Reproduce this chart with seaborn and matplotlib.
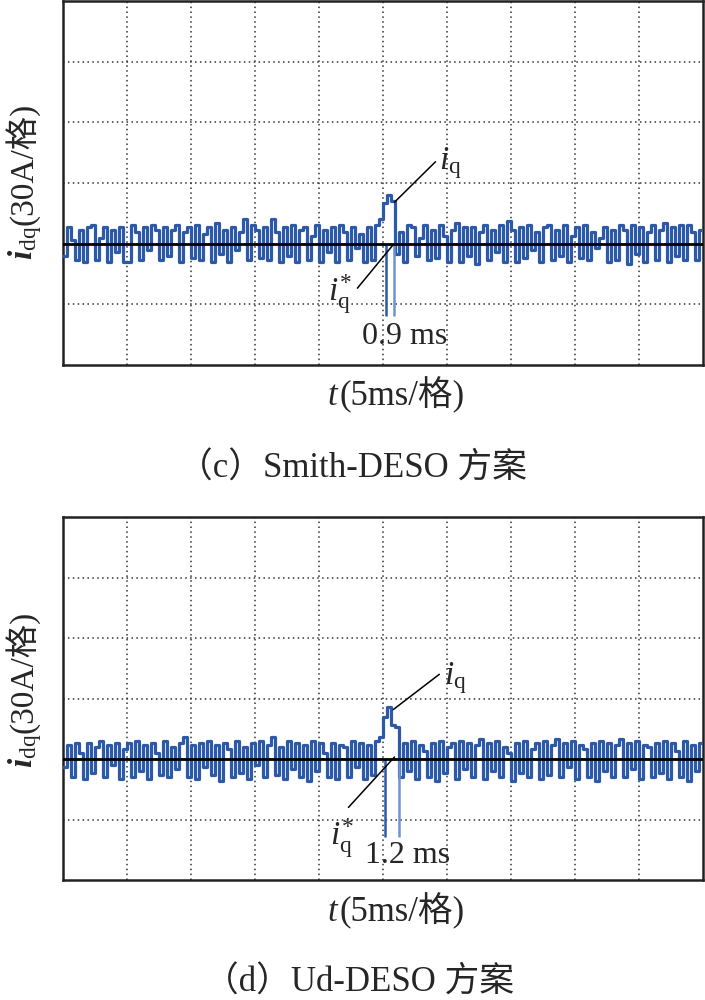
import numpy as np
import pandas as pd
import matplotlib
matplotlib.use("Agg")
import matplotlib.pyplot as plt
import seaborn as sns

# q-axis current around the reference, in A (30 A per division), one value per sample
step_ms = 50 / 160

iq_smith = [
    -6, 8, 2, -8, 7, -9, 8, 9, -8, 3, 8, -9, 7, -4, 8, -9, -9, 9, 6, -8,
    8, -3, 9, 7, -8, 8, -6, 7, 9, -9, 6, 8, -7, 9, -8, 5, 8, -9, 10, -5,
    7, -9, 8, -3, 6, 12, -8, 9, 7, -7, 8, -8, 12, 6, -9, 8, -6, 9, -9, 7,
    8, -8, 4, 9, -9, 7, -4, 8, -9, 9, 6, -8, 8, -2, 5, -9, 8, -8, 9, 12,
    20, 24, 21, -5, 6, -9, 9, 8, -6, 3, 9, -8, 7, -7, 9, 4, -9, 7, 10, -9,
    8, -6, 8, -10, 6, 9, -8, 7, -4, 9, -9, 11, 7, -9, 8, -7, 9, -3, 6, -9,
    8, 9, -8, 7, -6, 9, -9, 4, 8, -7, 9, -8, 6, -2, 3, 8, -9, 7, -8, 9,
    7, -10, 9, -5, 8, -9, 6, 9, -8, 7, 10, -9, 8, -6, 9, -8, 9, 6, -8, 7,
]

iq_ud = [
    -4, 7, -9, 8, 3, -10, 8, -7, 6, 9, -9, 7, -3, 8, -10, 5, 8, -9, 9, -6,
    7, -10, 8, 3, -8, 9, -9, 6, -5, 8, 11, -9, 7, -10, 8, -4, 9, -8, 7, -11,
    8, 5, -9, 9, -7, 6, -10, 8, -3, 9, -9, 7, 11, -8, 6, -10, 9, -5, 8, -9,
    7, -11, 9, -6, 8, 3, -9, 8, -10, 7, 6, -9, 9, -4, 8, -10, 7, -8, 9, 11,
    21, 26, 17, 16, -9, 8, -6, 9, -10, 7, 4, -9, 8, -11, 9, -7, 6, 8, -10, 9,
    -5, 8, -9, 7, 10, -10, 8, -6, 9, -9, 6, 3, -11, 8, -7, 9, -9, 5, 8, -10,
    9, -8, 7, 10, -9, 8, -4, 9, -10, 7, 5, -9, 8, -11, 9, -6, 8, -9, 7, 10,
    -9, 8, -5, 9, -10, 7, 6, -9, 8, -7, 9, -10, 8, 4, -9, 9, -11, 7, -6, 8,
]

iq_ref = 0
delay_smith = [25.27, 25.86]
delay_ud = [25.16, 26.25]
delay_labels = ["0.9 ms", "1.2 ms"]
captions = ["（c）Smith-DESO 方案", "（d）Ud-DESO 方案"]

sns.set_theme(style="white")
serif_cjk = ["Liberation Serif", "Noto Sans CJK SC"]
plt.rcParams["font.family"] = serif_cjk
plt.rcParams["mathtext.fontset"] = "custom"
plt.rcParams["mathtext.rm"] = "Liberation Serif"
plt.rcParams["mathtext.it"] = "Liberation Serif:italic"
plt.rcParams["mathtext.bf"] = "Liberation Serif:bold:italic"

blue = "#2c5aa8"


def draw_panel(ax, values, delay, delay_text, ann):
    t = np.append(np.arange(len(values)) * step_ms, 50)
    df = pd.DataFrame({"t": t, "iq": values + [values[-1]]})
    sns.lineplot(data=df, x="t", y="iq", ax=ax, color=blue, lw=2.3,
                 drawstyle="steps-post", zorder=3)
    ax.axhline(iq_ref, color="black", lw=2.0, zorder=4)
    ax.vlines(delay[0], ann["mk_low"], iq_ref, color=blue, lw=1.8, zorder=3)
    ax.vlines(delay[1], ann["mk_low"], iq_ref, color="#6f93d2", lw=1.8, zorder=3)

    ax.plot(ann["iq_line"][0], ann["iq_line"][1], color="black", lw=1.1, zorder=5)
    ax.plot(ann["ref_line"][0], ann["ref_line"][1], color="black", lw=1.1, zorder=5)
    ax.text(*ann["iq_txt"], r"$i_{\mathrm{q}}$", fontsize=24, ha="left", va="center")
    ax.text(*ann["ref_txt"], r"$i^{*}_{\mathrm{q}}$", fontsize=24, ha="right", va="center")
    ax.text(*ann["delay_txt"], delay_text, fontsize=23, ha="center", va="center")

    ax.set_xlim(0, 50)
    ax.set_ylim(-60, 120)
    ax.set_xticks(np.arange(5, 50, 5))
    ax.set_yticks(np.arange(-30, 120, 30))
    ax.set_xticklabels([])
    ax.set_yticklabels([])
    ax.tick_params(length=0)
    ax.grid(True, color="#333333", lw=1.1, linestyle=(0, (1, 2.2)))
    ax.set_xlabel("")
    ax.set_ylabel("")
    for sp in ax.spines.values():
        sp.set_color("#222222")
        sp.set_linewidth(1.8)


fig = plt.figure(figsize=(7.05, 10), dpi=100)
ax_c = fig.add_axes([63 / 705, 1 - 365 / 1000, 640 / 705, 364 / 1000])
ax_d = fig.add_axes([63 / 705, 1 - 880 / 1000, 640 / 705, 363 / 1000])

draw_panel(ax_c, iq_smith, delay_smith, delay_labels[0], {
    "mk_low": -36,
    "iq_line": ([25.9, 29.1], [20.5, 40.5]),
    "ref_line": ([25.8, 23.0], [-0.5, -22]),
    "iq_txt": (29.4, 40),
    "ref_txt": (22.6, -25),
    "delay_txt": (26.7, -46),
})
draw_panel(ax_d, iq_ud, delay_ud, delay_labels[1], {
    "mk_low": -38.5,
    "iq_line": ([25.8, 29.4], [24.5, 42]),
    "ref_line": ([25.9, 22.3], [1, -24]),
    "iq_txt": (29.8, 40),
    "ref_txt": (22.7, -39),
    "delay_txt": (26.9, -48),
})

# axis titles built from pieces so the CJK glyph can fall back
for ylab_y, xlab_y in [(0.775, 0.595), (0.267, 0.079)]:
    fig.text(0.046, ylab_y, r"$\mathbf{i}_{\mathrm{dq}}$", rotation=90,
             rotation_mode="anchor", ha="right", va="baseline", fontsize=24)
    fig.text(0.046, ylab_y, "(30A/格)", rotation=90, rotation_mode="anchor",
             ha="left", va="baseline", fontsize=24, family=serif_cjk)
    fig.text(0.481, xlab_y, r"$t$", ha="right", va="baseline", fontsize=25)
    fig.text(0.481, xlab_y, "(5ms/格)", ha="left", va="baseline", fontsize=25,
             family=serif_cjk)

fig.text(0.5, 0.522, captions[0], ha="center", va="baseline", fontsize=25,
         family=serif_cjk)
fig.text(0.509, 0.008, captions[1], ha="center", va="baseline", fontsize=25,
         family=serif_cjk)

fig.savefig("out.png", dpi=100)
